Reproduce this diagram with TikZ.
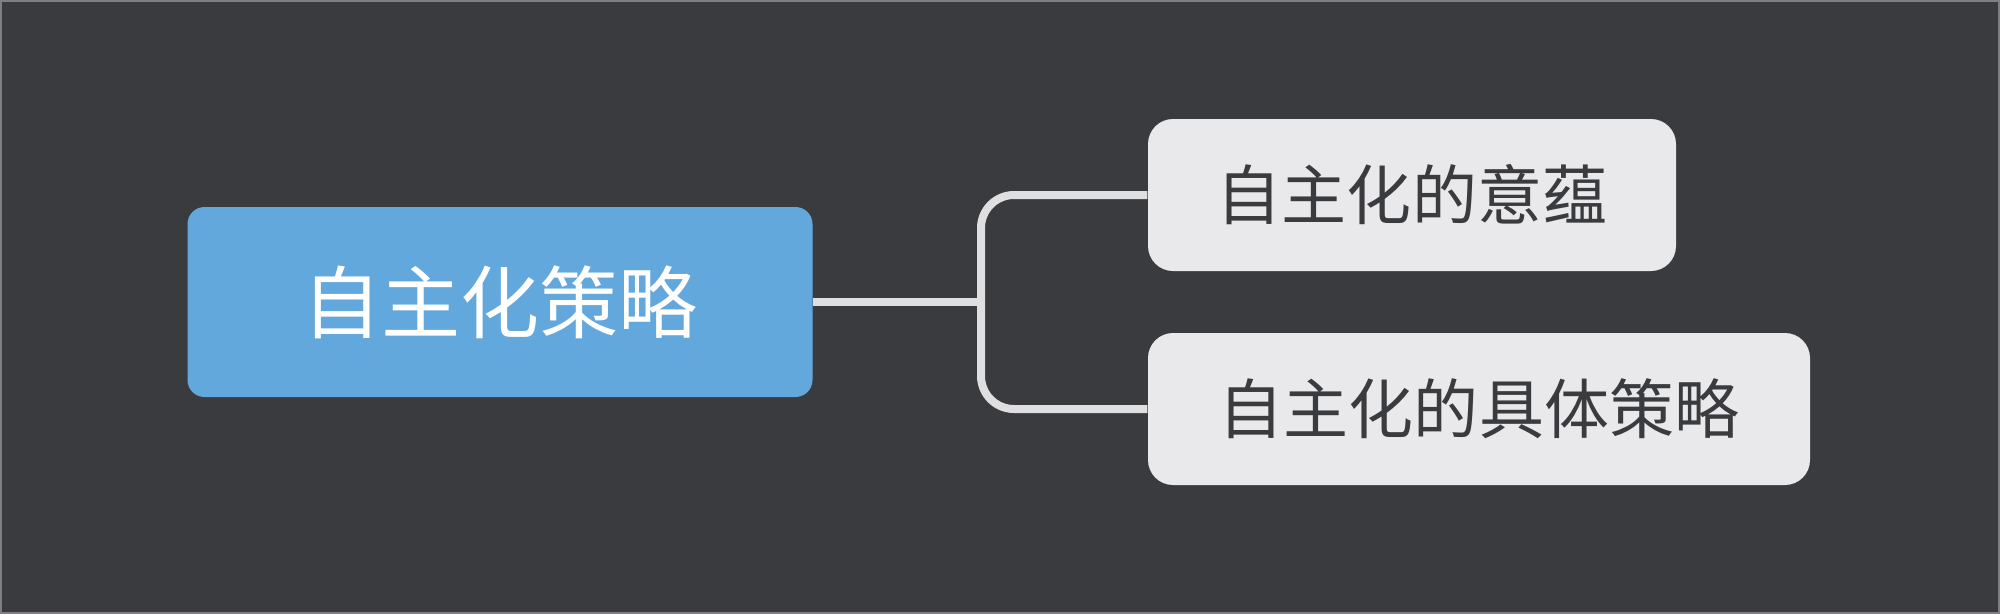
\documentclass[tikz,border=0pt]{standalone}
\usepackage{fontspec}
\setmainfont{Noto Sans CJK SC}
\usepackage{xcolor}
\usetikzlibrary{positioning}
\definecolor{bgdark}{HTML}{3A3B3F}
\definecolor{rootblue}{HTML}{62A8DC}
\definecolor{leafgray}{HTML}{E9E9EB}
\definecolor{leaftext}{HTML}{3A3B3F}
\definecolor{linkgray}{HTML}{DFDFE1}
\definecolor{framegray}{HTML}{7E7F83}

\begin{document}
\begin{tikzpicture}[
  rootbox/.style={fill=rootblue, rounded corners=0.17cm, minimum width=6.25cm, minimum height=1.90cm, text=white, font=\fontsize{22.5}{26}\selectfont},
  leafbox/.style={fill=leafgray, rounded corners=0.25cm, minimum height=1.52cm, text=leaftext, font=\fontsize{18.5}{22}\selectfont},
  link/.style={draw=linkgray, line width=0.08cm, rounded corners=0.33cm}
]
\fill[bgdark] (0,0) rectangle (20,-6.14);
\draw[framegray, line width=0.02cm] (0.01,-0.01) rectangle (19.99,-6.13);
\node[rootbox] (root) at (5.00,-3.02) {自主化策略};
\node[leafbox, minimum width=5.28cm] (meaning) at (14.12,-1.95) {自主化的意蕴};
\node[leafbox, minimum width=6.62cm] (tactics) at (14.79,-4.09) {自主化的具体策略};
\coordinate (fork) at (9.81,-3.02);
\draw[link] (root.east) -- (fork);
\draw[link] (fork) |- (meaning.west);
\draw[link] (fork) |- (tactics.west);
\end{tikzpicture}
\end{document}
